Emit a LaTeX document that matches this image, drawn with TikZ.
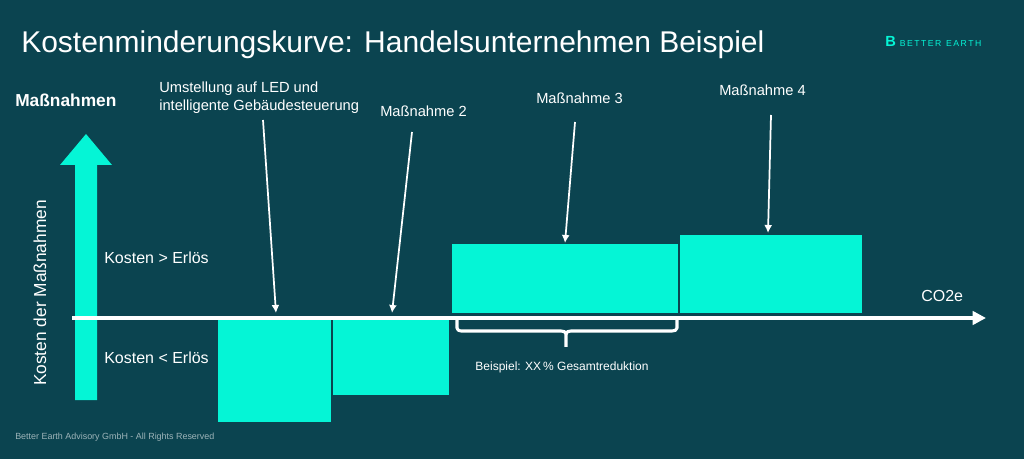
\documentclass[tikz,border=0pt]{standalone}
\usepackage{fontspec}
\setmainfont{Liberation Sans}
\usetikzlibrary{arrows.meta}
\definecolor{bg}{HTML}{0B4450}
\definecolor{tq}{HTML}{05F5D6}
\tikzset{bar/.style={fill=tq,draw=none},
 lbl/.style={text=white,anchor=west,inner sep=0,font=\fontsize{11}{13}\selectfont},
 ptr/.style={white,line width=1.3pt,-{Latex[length=6pt,width=6pt]}}}
\begin{document}
\begin{tikzpicture}[x=0.75pt,y=-0.75pt]
\fill[bg] (0,0) rectangle (1024,459);
\useasboundingbox (0,0) rectangle (1024,459);
\node[lbl,font=\fontsize{22.5}{26}\selectfont] (title) at (21,45) {Kostenminderungskurve: Handelsunternehmen Beispiel};
\node[anchor=west,inner sep=0,text=tq,font=\fontsize{7}{8}\selectfont] (logo) at (885,41) {\fontsize{11}{11}\selectfont\textbf{B}\ \fontsize{6.5}{8}\selectfont B\,E\,T\,T\,E\,R\ \ E\,A\,R\,T\,H};
% vertical arrow
\fill[tq] (75,400) -- (97,400) -- (97,165) -- (112,165) -- (86,134) -- (60,165) -- (75,165) -- cycle;
\node[lbl,font=\bfseries\fontsize{13}{15}\selectfont] (mass) at (15,100) {Maßnahmen};
\node[text=white,rotate=90,inner sep=0,font=\fontsize{13}{15}\selectfont] (kdm) at (40,293) {Kosten der Maßnahmen};
\node[lbl,font=\fontsize{12}{14}\selectfont] (kg) at (104,258) {Kosten > Erlös};
\node[lbl,font=\fontsize{12}{14}\selectfont] (kl) at (104,358) {Kosten < Erlös};
% bars
\fill[bar] (218,318) rectangle (331,422);
\fill[bar] (333,318) rectangle (449,395);
\fill[bar] (452,244) rectangle (678,313);
\fill[bar] (680,235) rectangle (862,313);
\coordinate (b1) at (276,313); \coordinate (b2) at (392,313);
\coordinate (b3) at (565,243); \coordinate (b4) at (768,233);
% axis
\coordinate (a0) at (72,318); \coordinate (a1) at (986,318);
\draw[white,line width=2.5pt,-{Triangle[length=10pt,width=10pt]}] (a0) -- (a1);
\node[lbl,font=\fontsize{12}{14}\selectfont] (co2) at (921,296) {CO2e};
% labels
\node[lbl,align=left,anchor=north west] (m1) at (159,82) {Umstellung auf LED und\\intelligente Gebäudesteuerung};
\node[lbl] (m2) at (380,111) {Maßnahme 2};
\node[lbl] (m3) at (536,98) {Maßnahme 3};
\node[lbl] (m4) at (719,90) {Maßnahme 4};
\draw[ptr] (263,120) -- (b1);
\draw[ptr] (412,132) -- (b2);
\draw[ptr] (575,122) -- (b3);
\draw[ptr] (771,115) -- (b4);
% brace
\draw[white,line width=2.3pt,line join=round] (457,320) -- (457,328) to[out=-90,in=180] (461,331) -- (561,331) to[out=0,in=90] (566,334) -- (566,347);
\draw[white,line width=2.3pt,line join=round] (566,334) to[out=90,in=180] (571,331) -- (672,331) to[out=0,in=-90] (677,328) -- (677,320);
\node[text=white,font=\fontsize{9}{11}\selectfont] (bsp) at (562,367) {Beispiel: XX\,\% Gesamtreduktion};
\node[anchor=west,inner sep=0,text=white!60!bg,font=\fontsize{6.7}{8}\selectfont] (foot) at (15,437) {Better Earth Advisory GmbH - All Rights Reserved};
\end{tikzpicture}
\end{document}
